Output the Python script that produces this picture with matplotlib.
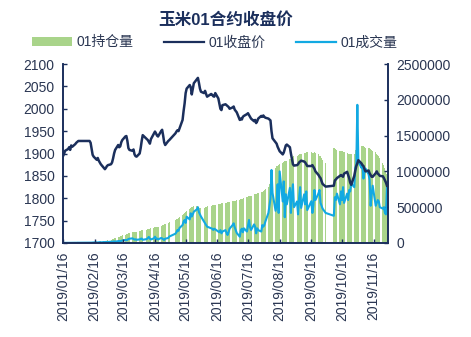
import matplotlib
matplotlib.use("Agg")
import matplotlib.pyplot as plt
import matplotlib.dates as mdates
from matplotlib.patches import Patch
from matplotlib.lines import Line2D
import pandas as pd

# trading days of the contract shown (exchange holidays removed)
start, end = "2019-01-16", "2019-11-29"
holidays = ["2019-02-04", "2019-02-05", "2019-02-06", "2019-02-07", "2019-02-08",
            "2019-04-05", "2019-05-01", "2019-05-02", "2019-05-03", "2019-06-07",
            "2019-09-13", "2019-10-01", "2019-10-02", "2019-10-03", "2019-10-04",
            "2019-10-07"]

# 01收盘价 (left axis), one value per trading day, grouped by month
close = [
    1894, 1899, 1906, 1910, 1914, 1908, 1918, 1915, 1921, 1924, 1926, 1928,
    1928, 1928, 1924, 1910, 1897, 1893, 1886, 1890, 1884, 1880, 1876, 1868, 1865, 1868, 1872,
    1874, 1876, 1880, 1889, 1900, 1908, 1919, 1914, 1916, 1925, 1930, 1938, 1939, 1928, 1912,
    1908, 1906, 1909, 1898, 1894, 1893,
    1900, 1912, 1928, 1941, 1932, 1930, 1926, 1922, 1932, 1945, 1949, 1945, 1940, 1938, 1950,
    1953, 1940, 1925, 1919, 1928, 1930,
    1945, 1949, 1952, 1950, 1956, 1975, 1995, 2012, 2035, 2045, 2053, 2048, 2032, 2045, 2057,
    2066, 2069, 2058, 2045, 2038,
    2035, 2040, 2033, 2027, 2033, 2031, 2028, 2027, 2035, 2023, 2012, 2000, 1997, 2008, 2010,
    2008, 2006, 2004, 2000,
    2003, 2005, 1998, 1995, 1992, 1975, 1978, 1976, 1982, 1984, 1988, 1990, 1986, 1982, 1978,
    1972, 1975, 1968, 1972, 1978, 1984, 1982, 1985,
    1982, 1980, 1978, 1976, 1974, 1950, 1934, 1925, 1922, 1915, 1910, 1905, 1898, 1902, 1910,
    1918, 1920, 1914, 1900, 1888, 1876, 1873,
    1874, 1876, 1880, 1882, 1884, 1882, 1880, 1876, 1872, 1872, 1874, 1870, 1866, 1860, 1852,
    1848, 1845, 1838, 1832, 1826,
    1828, 1840, 1842, 1845, 1850, 1852, 1850, 1848, 1855, 1859, 1852, 1845, 1835, 1830, 1850,
    1862, 1872, 1878,
    1885, 1878, 1874, 1872, 1865, 1860, 1862, 1856, 1852, 1848, 1848, 1856, 1860, 1855, 1853,
    1850, 1849, 1845, 1840, 1835, 1828,
]

# 01持仓量 (right axis)
open_interest = [
    2000, 3000, 3500, 4000, 5000, 5500, 6000, 7000, 7500, 8000, 9000, 9500,
    10000, 11000, 12000, 12500, 13500, 14000, 16000, 17000, 18000, 19000, 21000, 23000, 25000,
    27000, 30000,
    40000, 48000, 55000, 60000, 68000, 75000, 85000, 90000, 95000, 100000, 105000, 115000,
    125000, 130000, 135000, 140000, 150000, 155000, 152000, 158000, 160000,
    165000, 170000, 175000, 180000, 188000, 192000, 196000, 200000, 205000, 212000, 218000,
    222000, 226000, 230000, 240000, 248000, 255000, 260000, 265000, 285000, 298000,
    320000, 330000, 340000, 350000, 360000, 395000, 410000, 420000, 435000, 445000, 480000,
    495000, 500000, 505000, 510000, 515000, 512000, 505000, 495000, 490000,
    495000, 500000, 505000, 510000, 520000, 525000, 528000, 532000, 535000, 540000, 545000,
    550000, 552000, 555000, 560000, 565000, 568000, 570000, 575000,
    580000, 585000, 590000, 592000, 595000, 605000, 610000, 615000, 620000, 625000, 640000,
    645000, 650000, 655000, 660000, 680000, 685000, 690000, 695000, 700000, 712000, 718000,
    722000,
    740000, 750000, 780000, 820000, 900000, 980000, 1020000, 1050000, 1070000, 1080000,
    1090000, 1100000, 1120000, 1130000, 1140000, 1150000, 1150000, 1170000, 1180000, 1190000,
    1200000, 1210000,
    1220000, 1230000, 1240000, 1240000, 1250000, 1260000, 1260000, 1270000, 1270000, 1270000,
    1260000, 1260000, 1270000, 1260000, 1240000, 1220000, 1210000, 1190000, 1160000, 1120000,
    1330000, 1320000, 1310000, 1300000, 1290000, 1280000, 1280000, 1270000, 1270000, 1260000,
    1250000, 1250000, 1240000, 1240000, 1250000, 1300000, 1340000, 1360000,
    1370000, 1360000, 1350000, 1350000, 1340000, 1330000, 1330000, 1320000, 1310000, 1300000,
    1290000, 1270000, 1250000, 1230000, 1210000, 1190000, 1120000, 1090000, 1050000, 1010000,
    970000,
]

# 01成交量 (right axis)
volume = [
    1500, 2000, 1800, 2500, 2200, 3000, 2600, 3200, 3500, 3000, 4200, 3800,
    4000, 5000, 6500, 5500, 7000, 8000, 9000, 7500, 10000, 12000, 9000, 13000, 11000, 15000,
    14000,
    14000, 18000, 16000, 20000, 22000, 19000, 25000, 28000, 24000, 30000, 35000, 42000, 38000,
    45000, 55000, 60000, 65000, 55000, 48000, 52000, 45000,
    50000, 58000, 62000, 45000, 55000, 70000, 85000, 60000, 50000, 65000, 88000, 55000, 62000,
    50000, 70000, 65000, 52000, 42000, 60000, 70000, 90000,
    130000, 150000, 182000, 170000, 210000, 251000, 300000, 321000, 280000, 367000, 330000,
    415000, 370000, 400000, 437000, 470000, 500000, 430000, 400000, 370000,
    300000, 275000, 250000, 228000, 205000, 200000, 182000, 200000, 190000, 160000, 150000,
    180000, 135000, 160000, 180000, 140000, 112000, 150000, 200000,
    251000, 275000, 220000, 180000, 140000, 88000, 180000, 200000, 150000, 205000, 160000,
    240000, 321000, 220000, 182000, 260000, 228000, 135000, 205000, 180000, 160000, 250000,
    228000,
    250000, 300000, 420000, 520000, 620000, 1020000, 700000, 450000, 540000, 820000, 420000,
    1000000, 580000, 860000, 360000, 680000, 540000, 770000, 420000, 680000, 820000, 500000,
    580000, 400000, 630000, 780000, 490000, 680000, 540000, 720000, 460000, 584000, 420000,
    530000, 740000, 600000, 694000, 740000, 560000, 520000, 480000, 420000,
    380000, 640000, 600000, 690000, 540000, 720000, 600000, 780000, 560000, 690000, 600000,
    740000, 720000, 830000, 780000, 1050000, 1100000, 1930000,
    1140000, 1050000, 1080000, 900000, 1000000, 1040000, 960000, 880000, 520000, 680000,
    800000, 520000, 560000, 600000, 580000, 500000, 480000, 500000, 420000, 400000, 780000,
]

left_ticks = [1700, 1750, 1800, 1850, 1900, 1950, 2000, 2050, 2100]
right_ticks = [0, 500000, 1000000, 1500000, 2000000, 2500000]
month_ticks = ["2019-01-16", "2019-02-16", "2019-03-16", "2019-04-16", "2019-05-16",
               "2019-06-16", "2019-07-16", "2019-08-16", "2019-09-16", "2019-10-16",
               "2019-11-16"]

dates = pd.bdate_range(start, end, freq="C", holidays=holidays)

navy = "#1b2f5c"
green = "#a9d48a"
blue = "#12a9e2"
label_col = "#2a3652"

plt.rcParams["font.family"] = ["Liberation Sans", "Noto Sans CJK SC", "DejaVu Sans"]

fig = plt.figure(figsize=(4.71, 3.37), dpi=100)
ax = fig.add_axes([63 / 471, 1 - 243 / 337, 325 / 471, 179 / 337])
ax2 = ax.twinx()

ax2.bar(dates, open_interest, width=1.0, color=green, linewidth=0, align="center")
ax2.plot(dates, volume, color=blue, lw=1.5, solid_joinstyle="round")
ax.plot(dates, close, color=navy, lw=1.8, solid_joinstyle="round")

# keep the price line above the bars of the twin axis
ax.set_zorder(ax2.get_zorder() + 1)
ax.patch.set_visible(False)

ax.set_xlim(pd.Timestamp("2019-01-16"), pd.Timestamp("2019-11-30"))
ax.set_ylim(1700, 2100)
ax2.set_ylim(0, 2500000)
ax.set_yticks(left_ticks)
ax2.set_yticks(right_ticks)
ax2.set_yticklabels([str(v) for v in right_ticks])

ax.set_xticks(pd.to_datetime(month_ticks))
ax.xaxis.set_major_formatter(mdates.DateFormatter("%Y/%m/%d"))
plt.setp(ax.get_xticklabels(), rotation=90)

for a in (ax, ax2):
    a.spines["top"].set_visible(False)
    for s in ("left", "right", "bottom"):
        a.spines[s].set_color(navy)
        a.spines[s].set_linewidth(1.2)
    a.tick_params(direction="in", length=3, width=1, color=navy,
                  labelsize=10, labelcolor=label_col, pad=6)

fig.text(0.478, 0.94, "玉米01合约收盘价", ha="center", va="center",
         fontsize=12, fontweight="bold", color=navy)

handles = [Patch(facecolor=green, edgecolor="none"),
           Line2D([], [], color=navy, lw=1.6),
           Line2D([], [], color=blue, lw=1.6)]
fig.legend(handles, ["01持仓量", "01收盘价", "01成交量"], loc="center",
           bbox_to_anchor=(0.455, 0.874), ncol=3, frameon=False, fontsize=10,
           handlelength=2.9, handleheight=0.6, handletextpad=0.3,
           columnspacing=2.2, labelcolor=label_col)

plt.savefig("out.png", dpi=100)
